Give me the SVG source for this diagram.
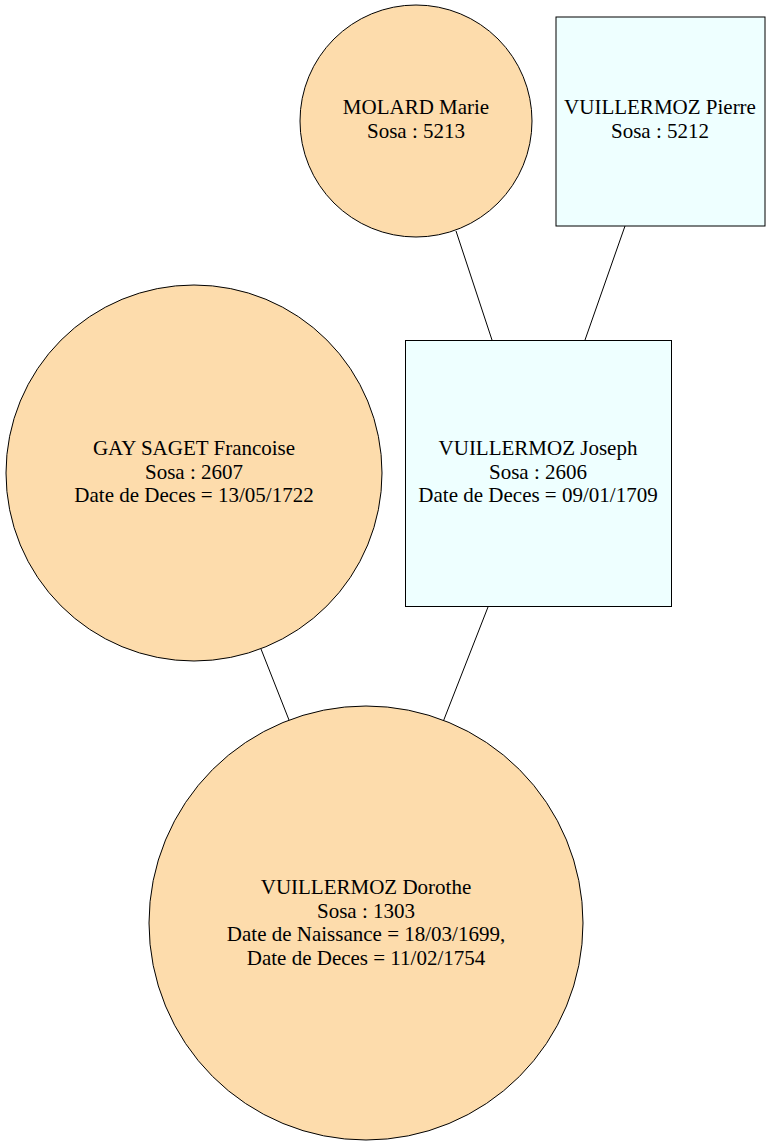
<svg xmlns="http://www.w3.org/2000/svg" width="771" height="1148" viewBox="0 0 771 1148">
  <style>
    .female { fill: #fddcac; stroke: #000; stroke-width: 1; }
    .male { fill: #eeffff; stroke: #000; stroke-width: 1; }
    .edge { stroke: #000; stroke-width: 1; fill: none; }
    text { font-family: "Liberation Serif", "Times New Roman", serif; font-size: 21px; fill: #000; text-anchor: middle; }
  </style>
  <rect width="771" height="1148" fill="#fff"/>
  <g id="edges">
    <line class="edge" x1="456" y1="231" x2="492" y2="340"/>
    <line class="edge" x1="625" y1="226" x2="585" y2="340"/>
    <line class="edge" x1="261" y1="649" x2="289" y2="720"/>
    <line class="edge" x1="488" y1="607" x2="443" y2="722"/>
  </g>
  <g id="molard_marie">
    <circle class="female" cx="416" cy="121" r="116"/>
    <text x="416" y="114">MOLARD Marie</text>
    <text x="416" y="137.5">Sosa : 5213</text>
  </g>
  <g id="vuillermoz_pierre">
    <rect class="male" x="556" y="17" width="209" height="209"/>
    <text x="660" y="114">VUILLERMOZ Pierre</text>
    <text x="660" y="137.5">Sosa : 5212</text>
  </g>
  <g id="gay_saget_francoise">
    <circle class="female" cx="194" cy="473" r="188"/>
    <text x="194" y="455">GAY SAGET Francoise</text>
    <text x="194" y="478.5">Sosa : 2607</text>
    <text x="194" y="502">Date de Deces = 13/05/1722</text>
  </g>
  <g id="vuillermoz_joseph">
    <rect class="male" x="405.5" y="340.5" width="266" height="266"/>
    <text x="538" y="455">VUILLERMOZ Joseph</text>
    <text x="538" y="478.5">Sosa : 2606</text>
    <text x="538" y="502">Date de Deces = 09/01/1709</text>
  </g>
  <g id="vuillermoz_dorothe">
    <circle class="female" cx="366" cy="923" r="217"/>
    <text x="366" y="894">VUILLERMOZ Dorothe</text>
    <text x="366" y="917.5">Sosa : 1303</text>
    <text x="366" y="941">Date de Naissance = 18/03/1699,</text>
    <text x="366" y="964.5">Date de Deces = 11/02/1754</text>
  </g>
</svg>
